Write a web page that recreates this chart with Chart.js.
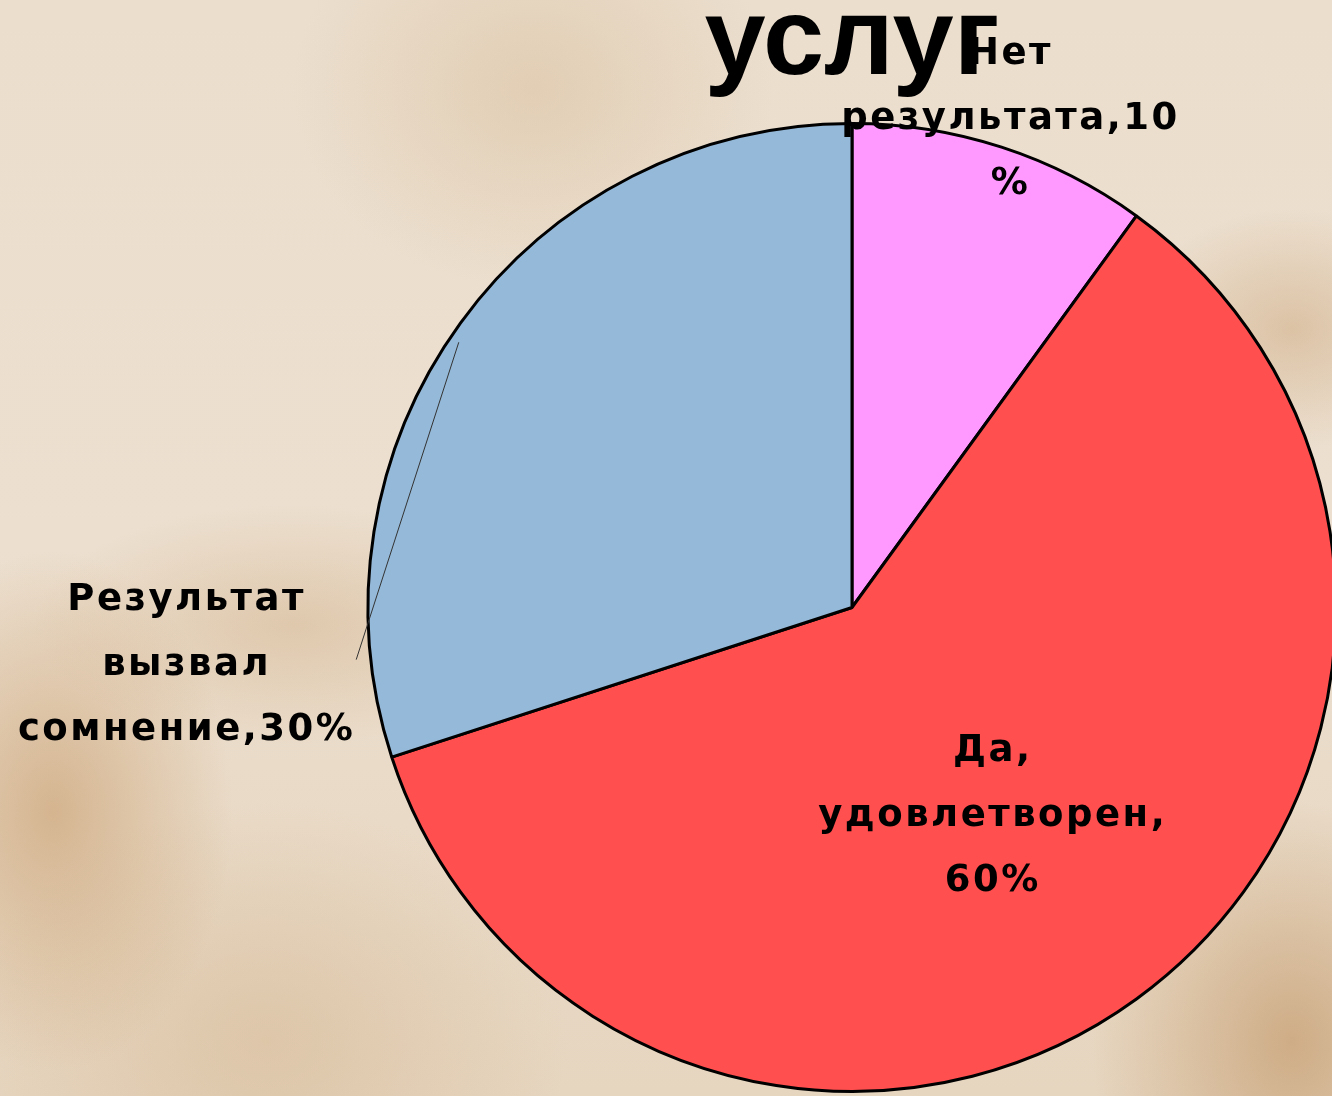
<!DOCTYPE html>
<html>
<head>
<meta charset="utf-8">
<script src="https://cdn.jsdelivr.net/npm/chart.js@4/dist/chart.umd.min.js"></script>
<style>
  html, body {
    margin: 0;
    padding: 0;
    width: 1332px;
    height: 1096px;
    overflow: hidden;
  }
  body {
    background:
      radial-gradient(ellipse 180px 260px at 4% 74%, rgba(196, 150, 98, 0.55), transparent),
      radial-gradient(ellipse 260px 120px at 22% 57%, rgba(200, 160, 112, 0.35), transparent),
      radial-gradient(ellipse 200px 240px at 97% 95%, rgba(190, 145, 95, 0.6), transparent),
      radial-gradient(ellipse 160px 120px at 97% 30%, rgba(200, 160, 115, 0.45), transparent),
      radial-gradient(ellipse 240px 200px at 40% 8%, rgba(214, 186, 150, 0.45), transparent),
      radial-gradient(ellipse 300px 240px at 20% 95%, rgba(212, 182, 145, 0.5), transparent),
      linear-gradient(180deg, #ebdecd 0%, #ecdfcf 50%, #e6d5bf 100%);
  }
  #chart {
    display: block;
  }
</style>
</head>
<body>
<canvas id="chart" width="1344" height="1096" style="width:1344px;height:1096px"></canvas>
<script>

// data
let categories = ["Нет результата", "Да, удовлетворен", "Результат вызвал сомнение"]
let shares = [10, 60, 30]
let sliceColors = ["#ff99ff", "#ff4f4f", "#95b9d8"]

// text of the labels, line by line
let labelLines = [
    ["Нет", "результата,10", "%"],
    ["Да,", "удовлетворен,", "60%"],
    ["Результат", "вызвал", "сомнение,30%"]
]

// where each label sits: angle shift from slice middle (deg) and distance in radii
let labelShift = [0, 2, -41]
let labelDist = [1.06, 0.52, 1.38]

let titleText = "услуг"

const labelFont = "bold 37px 'Comic Sans MS', 'DejaVu Sans', sans-serif"
const lineStep = 65


function polar(arc, angle, dist) {
    return {
        x: arc.x + Math.cos(angle) * arc.outerRadius * dist,
        y: arc.y + Math.sin(angle) * arc.outerRadius * dist
    }
}


// draws the slice labels (and the leader line for the blue one)
const sliceLabels = {
    id: "sliceLabels",
    afterDatasetsDraw(chart) {
        let ctx = chart.ctx
        let arcs = chart.getDatasetMeta(0).data

        ctx.save()
        ctx.font = labelFont
        ctx.letterSpacing = "2.5px"
        ctx.fillStyle = "#000"
        ctx.textAlign = "center"
        ctx.textBaseline = "middle"

        arcs.forEach((arc, i) => {
            let mid = (arc.startAngle + arc.endAngle) / 2
            let a = mid + labelShift[i] * Math.PI / 180
            let p = polar(arc, a, labelDist[i])

            // leader line from label to the slice
            if (labelDist[i] > 1.2) {
                let from = polar(arc, mid - 42 * Math.PI / 180, 1.03)
                let to = polar(arc, mid - 2 * Math.PI / 180, 0.98)
                ctx.beginPath()
                ctx.strokeStyle = "#333"
                ctx.lineWidth = 1
                ctx.moveTo(from.x, from.y)
                ctx.lineTo(to.x, to.y)
                ctx.stroke()
            }

            let lines = labelLines[i]
            let y0 = p.y - (lines.length - 1) * lineStep / 2
            lines.forEach((t, k) => {
                ctx.fillText(t, p.x, y0 + k * lineStep)
            })
        })
        ctx.restore()
    }
}


const ctx = document.getElementById("chart")

chart = new Chart(ctx, {
    type: "pie",
    data: {
        labels: categories,
        datasets: [{
            data: shares,
            backgroundColor: sliceColors,
            borderColor: "#000",
            borderWidth: 3
        }]
    },
    options: {
        responsive: false,
        animation: false,
        devicePixelRatio: 1,
        layout: {
            padding: { top: 2, left: 366, right: 6, bottom: 3 }
        },
        plugins: {
            legend: { display: false },
            tooltip: { enabled: false },
            title: {
                display: true,
                text: titleText,
                color: "#000",
                font: {
                    family: "'Liberation Sans', Arial, sans-serif",
                    size: 110,
                    weight: "bold",
                    lineHeight: 0.6
                },
                padding: { top: 9, bottom: 45 }
            }
        }
    },
    plugins: [sliceLabels]
})

</script>
</body>
</html>
